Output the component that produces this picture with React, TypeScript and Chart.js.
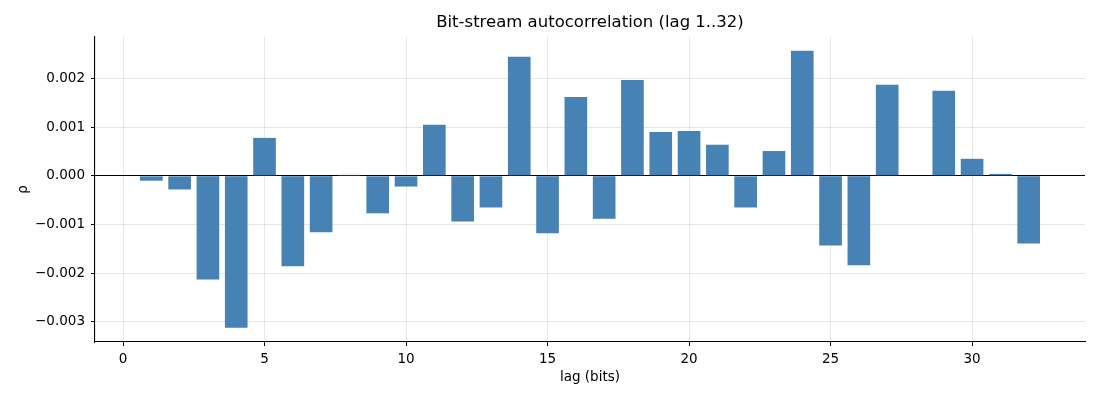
import { useEffect, useRef } from 'react'
import { Chart, registerables } from 'chart.js'

Chart.register(...registerables)

const lags = [1, 2, 3, 4, 5, 6, 7, 8, 9, 10, 11, 12, 13, 14, 15, 16, 17, 18, 19, 20, 21, 22, 23, 24, 25, 26, 27, 28, 29, 30, 31, 32]
const rho = [
  -0.00010, -0.00028, -0.00213, -0.00312, 0.00078, -0.00186, -0.00116, 0.00002,
  -0.00077, -0.00022, 0.00105, -0.00094, -0.00065, 0.00245, -0.00118, 0.00162,
  -0.00088, 0.00197, 0.00090, 0.00092, 0.00064, -0.00065, 0.00051, 0.00257,
  -0.00143, -0.00184, 0.00187, 0.00001, 0.00175, 0.00035, 0.00004, -0.00139,
]
const xTicks = [0, 5, 10, 15, 20, 25, 30]
const yTicks = [-0.003, -0.002, -0.001, 0, 0.001, 0.002]
const titleText = 'Bit-stream autocorrelation (lag 1..32)'

const FONT = '"DejaVu Sans", sans-serif'
const GRID = 'rgba(176,176,176,0.32)'

// matplotlib centres the title over the axes, not the whole canvas
const axesTitle = {
  id: 'axesTitle',
  afterDraw(chart: any) {
    const { ctx, chartArea } = chart
    ctx.save()
    ctx.fillStyle = '#000'
    ctx.font = `16.5px ${FONT}`
    ctx.textAlign = 'center'
    ctx.textBaseline = 'middle'
    ctx.fillText(titleText, (chartArea.left + chartArea.right) / 2, 23)
    ctx.restore()
  },
}

export default function App() {
  const chartRef = useRef<HTMLCanvasElement>(null)

  useEffect(() => {
    document.body.style.margin = '0'
    if (!chartRef.current) return
    const ctx = chartRef.current.getContext('2d')
    if (!ctx) return

    const chart = new Chart(ctx, {
      type: 'bar',
      data: {
        datasets: [{
          label: 'ρ',
          data: lags.map((l, i) => ({ x: l, y: rho[i] })),
          backgroundColor: '#4682b4',
          borderWidth: 0,
          barPercentage: 1,
          categoryPercentage: 0.8,
        }]
      },
      plugins: [axesTitle],
      options: {
        responsive: true,
        maintainAspectRatio: false,
        animation: false,
        layout: { padding: { left: 0, right: 15, top: 37, bottom: 0 } },
        plugins: {
          legend: { display: false },
          tooltip: { enabled: false },
          title: { display: false },
        },
        scales: {
          x: {
            type: 'linear',
            offset: false,
            min: -0.99,
            max: 33.99,
            z: 1,
            afterBuildTicks: (s: any) => { s.ticks = xTicks.map(v => ({ value: v })) },
            afterFit: (s: any) => { s.height = 58 },
            ticks: {
              includeBounds: false,
              color: '#000',
              font: { family: FONT, size: 13.5 },
              padding: 5,
              maxRotation: 0,
              callback: (v: any) => String(v),
            },
            grid: { offset: false, color: GRID, tickColor: '#000', tickLength: 4, lineWidth: 1 },
            border: { display: true, color: '#000', width: 1.1 },
            title: {
              display: true,
              text: 'lag (bits)',
              color: '#000',
              font: { family: FONT, size: 13.5 },
              padding: { top: 4, bottom: 14 },
            },
          },
          y: {
            min: -0.003415,
            max: 0.002854,
            z: 1,
            afterBuildTicks: (s: any) => { s.ticks = yTicks.map(v => ({ value: v })) },
            afterFit: (s: any) => { s.width = 95 },
            ticks: {
              includeBounds: false,
              color: '#000',
              font: { family: FONT, size: 13.5 },
              padding: 6,
              callback: (v: any) => (Number(v) < 0 ? '\u2212' : '') + Math.abs(Number(v)).toFixed(3),
            },
            grid: {
              color: (c: any) => (c.tick && Math.abs(c.tick.value) < 1e-12 ? '#000' : GRID),
              tickColor: '#000',
              tickLength: 4,
              lineWidth: 1,
            },
            border: { display: true, color: '#000', width: 1.1 },
            title: {
              display: true,
              text: 'ρ',
              color: '#000',
              font: { family: FONT, size: 13.5 },
              padding: { top: 15, bottom: 0 },
            },
          },
        },
      },
    })

    return () => chart.destroy()
  }, [])

  return (
    <div style={{ width: 1100, height: 400, position: 'relative' }}>
      <canvas ref={chartRef} />
    </div>
  )
}
